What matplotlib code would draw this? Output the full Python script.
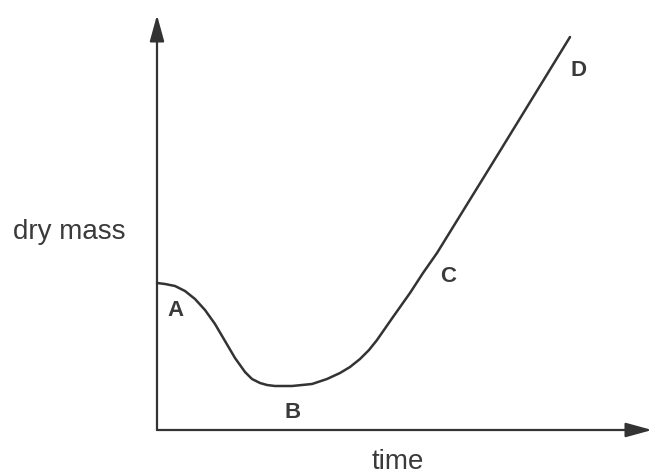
import matplotlib
matplotlib.use("Agg")
import matplotlib.pyplot as plt

# curve (time, dry mass) in arbitrary units
time = [0, 8, 18, 28, 38, 48, 58, 68, 78, 88, 95, 103, 110, 118, 135, 155, 170,
        183, 193, 203, 212, 220, 236, 253, 266, 280, 343, 413]
dry_mass = [147, 146, 144, 139, 131, 120, 106, 89, 72, 58, 51, 47, 45, 44, 44, 46, 51,
            57, 63, 71, 80, 90, 113, 137, 157, 177, 279, 393]

# stage labels and where they sit
stage_names = ["A", "B", "C", "D"]
stage_time = [19, 136, 291, 421]
stage_mass = [120, 18, 153, 360]

line_col = "#333333"
text_col = "#3a3a3a"
plt.rcParams["font.family"] = ["Liberation Sans", "DejaVu Sans"]

fig = plt.figure(figsize=(6.52, 4.75), dpi=100)
ax = fig.add_axes([0, 0, 1, 1])
ax.set_xlim(-157, 495)
ax.set_ylim(-45, 430)
ax.axis("off")

# axes with arrow heads
arrow = dict(arrowstyle="-|>,head_length=0.8,head_width=0.22", mutation_scale=20,
             lw=1.6, color=line_col, shrinkA=0, shrinkB=0)
ax.annotate("", xy=(0, 415), xytext=(0, 0), arrowprops=arrow)
ax.annotate("", xy=(495, 0), xytext=(0, 0), arrowprops=arrow)

ax.plot(time, dry_mass, color=line_col, lw=1.8, solid_joinstyle="round",
        solid_capstyle="round")

for name, t, m in zip(stage_names, stage_time, stage_mass):
    ax.text(t, m, name, fontsize=16, fontweight="bold", color=text_col,
            ha="center", va="center")

ax.text(-88, 198, "dry mass", fontsize=20, color=text_col, ha="center", va="center")
ax.text(241, -32, "time", fontsize=20, color=text_col, ha="center", va="center")

fig.savefig("out.png", dpi=100)
